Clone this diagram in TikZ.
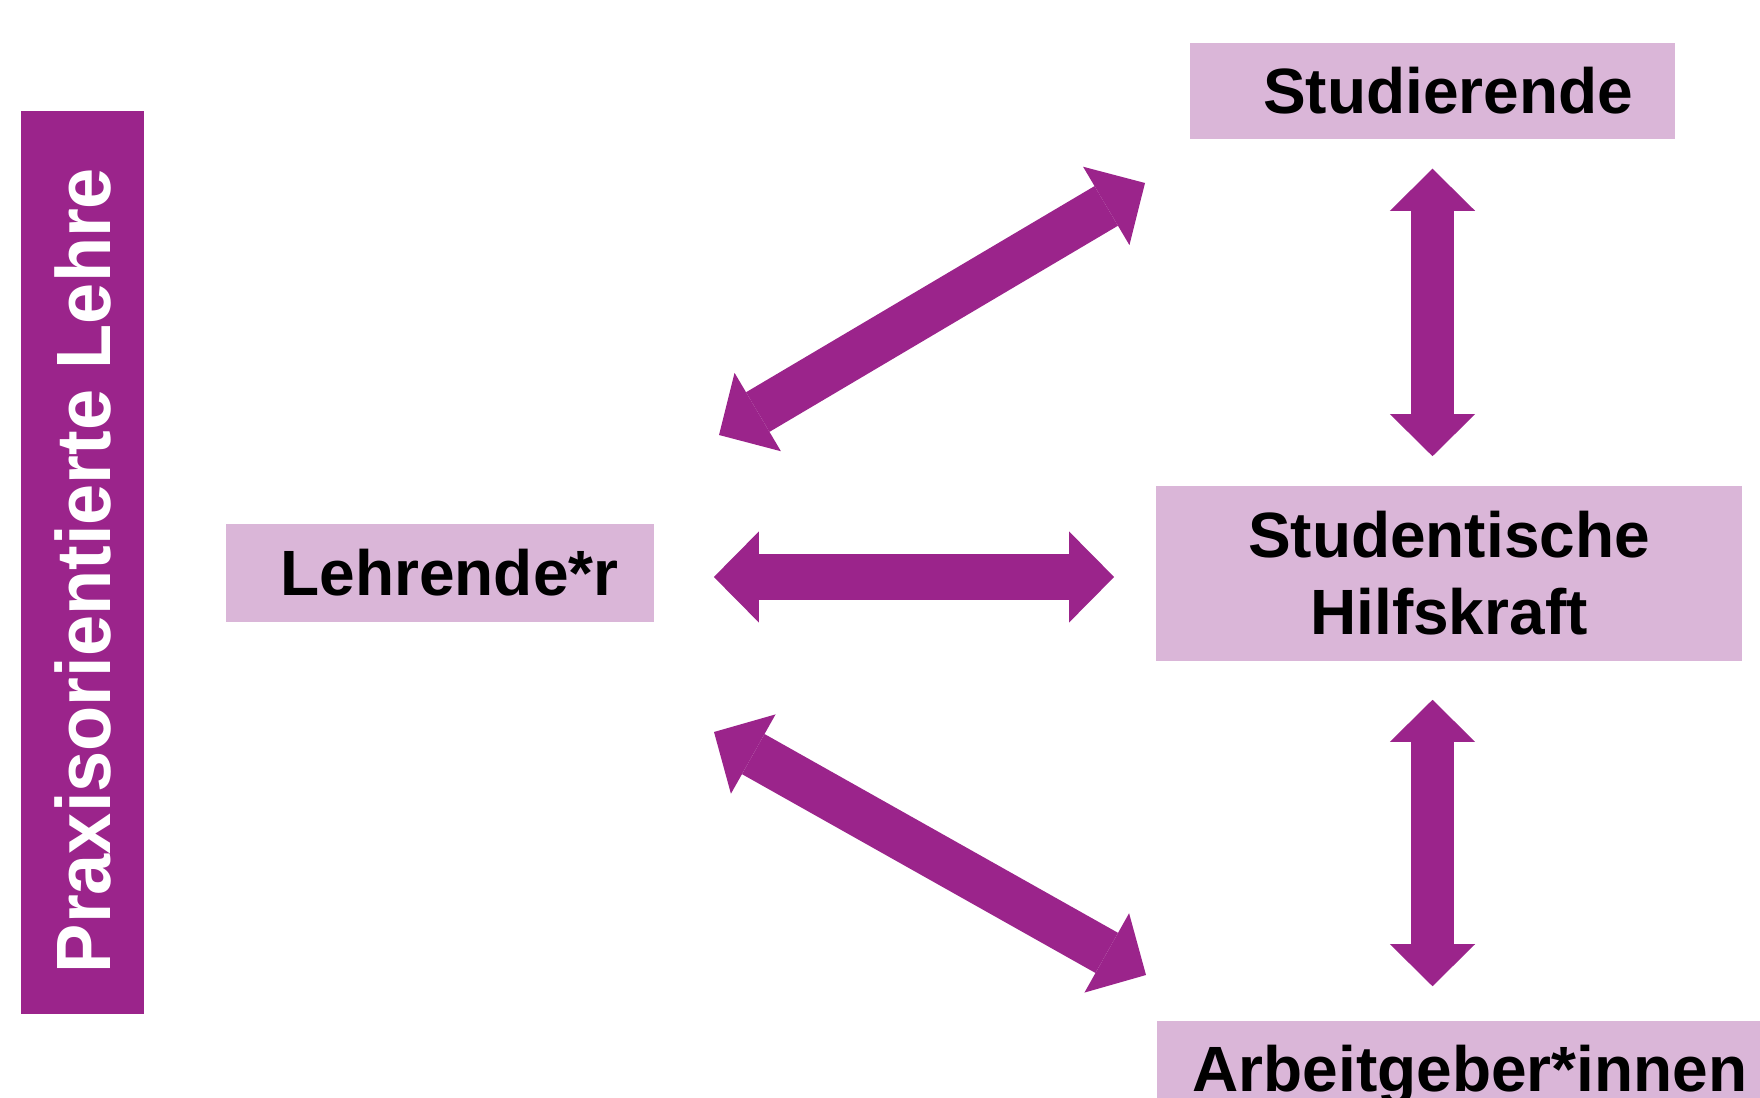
\documentclass[tikz,border=0pt]{standalone}
\usepackage{fontspec}
\setmainfont{Liberation Sans}
\newfontfamily\barfont[FakeStretch=0.96]{Liberation Sans}
\usepackage{tikz}
\usetikzlibrary{
  arrows.meta,
  calc,
  positioning}

\definecolor{hkpurple}{RGB}{155,36,139}
\definecolor{hklilac}{RGB}{218,182,216}

\tikzset{
  rolebox/.style={fill=hklilac, inner sep=0pt, align=center,
    font=\bfseries\fontsize{18.2pt}{21.9pt}\selectfont},
  linkarrow/.style={draw=hkpurple, line width=0.46cm,
    arrows={Triangle[length=0.45cm,width=0.91cm,line width=0pt]-Triangle[length=0.45cm,width=0.91cm,line width=0pt]}},
  vlinkarrow/.style={draw=hkpurple, line width=0.43cm,
    arrows={Triangle[length=0.42cm,width=0.85cm,line width=0pt]-Triangle[length=0.42cm,width=0.85cm,line width=0pt]}}
}

\begin{document}
\begin{tikzpicture}[x=0.01cm,y=-0.01cm]
            \useasboundingbox (0,0) rectangle (1760,1098);
            \clip (0,0) rectangle (1760,1098);
            % side bar
            \node[fill=hkpurple, text=white, rotate=90, inner sep=0pt,
                  minimum width=9.03cm, minimum height=1.23cm,
                  font=\barfont\bfseries\fontsize{21.9pt}{26pt}\selectfont] (bar) at (82.5,562.5) {Praxisorientierte Lehre\hspace*{0.16cm}};
            % roles
            \node[rolebox, minimum width=4.85cm, minimum height=0.96cm] (stud) at (1432.5,91) {\hspace*{0.31cm}Studierende};
            \node[rolebox, minimum width=4.28cm, minimum height=0.98cm] (lehr) at (440,573) {\hspace*{0.19cm}Lehrende*r};
            \node[rolebox, minimum width=5.86cm, minimum height=1.75cm] (shk) at (1449,573.5) {Studentische\\Hilfskraft};
            \node[rolebox, minimum width=6.26cm, minimum height=1.08cm] (arb) at (1470,1075) {Arbeitgeber*innen};
            % connections
            \coordinate (lu) at (719,435);
            \coordinate (ru) at (1145,183);
            \coordinate (ld) at (714,732);
            \coordinate (rd) at (1146,975);
            \draw[linkarrow] (lu)--(ru);
            \draw[linkarrow] (ld)--(rd);
            \draw[linkarrow, shorten <=0.59cm, shorten >=0.41cm] ($(lehr.east)+(0,4)$)--($(lehr.east -| shk.west)+(0,4)$);
            \draw[vlinkarrow, shorten <=0.29cm, shorten >=0.29cm] (stud.south)--(stud.south |- shk.north);
            \draw[vlinkarrow, shorten <=0.38cm, shorten >=0.34cm] (stud.south |- shk.south)--(stud.south |- arb.north);
        \end{tikzpicture}
\end{document}
